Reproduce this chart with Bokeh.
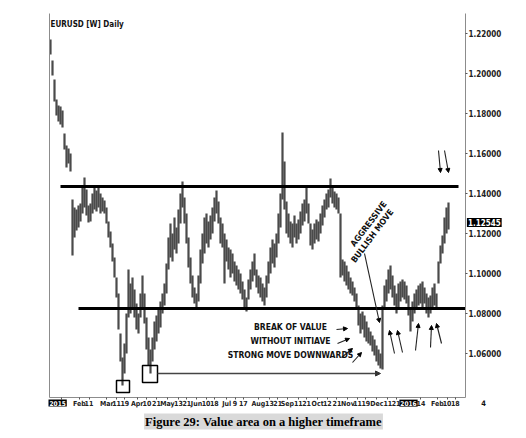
from bokeh.plotting import figure
from bokeh.models import (Range1d, LinearAxis, FixedTicker, Label, Arrow, NormalHead,
                          ColumnDataSource, NumeralTickFormatter)
from bokeh.embed import file_html
from bokeh.resources import INLINE

# ---------------- data (EURUSD daily bars) ----------------
bar_high = [
    1.2170, 1.2065, 1.1970, 1.1870, 1.1840, 1.1835, 1.1815, 1.1700, 1.1640, 1.1625,
    1.1600, 1.1370, 1.1330, 1.1320, 1.1340, 1.1350, 1.1440, 1.1480, 1.1420, 1.1340,
    1.1350, 1.1400, 1.1430, 1.1415, 1.1430, 1.1400, 1.1380, 1.1365, 1.1330, 1.1260,
    1.1210, 1.1150, 1.1080, 1.0980, 1.0900, 1.0700, 1.0580, 1.0650, 1.0800, 1.1020,
    1.0950, 1.0980, 1.0920, 1.0850, 1.0800, 1.0900, 1.0990, 1.0900, 1.0780, 1.0680,
    1.0620, 1.0680, 1.0760, 1.0790, 1.0820, 1.0860, 1.0900, 1.0950, 1.1050, 1.1180,
    1.1250, 1.1200, 1.1280, 1.1230, 1.1320, 1.1400, 1.1460, 1.1380, 1.1300, 1.1180,
    1.1080, 1.0990, 1.0930, 1.0900, 1.0990, 1.1120, 1.1200, 1.1280, 1.1300, 1.1260,
    1.1290, 1.1330, 1.1380, 1.1415, 1.1360, 1.1280, 1.1250, 1.1200, 1.1170, 1.1130,
    1.1120, 1.1100, 1.1060, 1.1040, 1.1020, 1.1000, 1.0960, 1.0920, 1.0880, 1.0970,
    1.1020, 1.1060, 1.1100, 1.1020, 1.0990, 1.0980, 1.0950, 1.0930, 1.0990, 1.1060,
    1.1130, 1.1170, 1.1150, 1.1200, 1.1300, 1.1400, 1.1705, 1.1560, 1.1360, 1.1300,
    1.1260, 1.1250, 1.1290, 1.1250, 1.1270, 1.1310, 1.1350, 1.1370, 1.1440, 1.1350,
    1.1250, 1.1220, 1.1250, 1.1270, 1.1260, 1.1300, 1.1340, 1.1370, 1.1400, 1.1420,
    1.1475, 1.1430, 1.1410, 1.1400, 1.1380, 1.1300, 1.1070, 1.1060, 1.1040, 1.1010,
    1.0980, 1.0960, 1.0930, 1.0900, 1.0840, 1.0800, 1.0810, 1.0790, 1.0760, 1.0730,
    1.0710, 1.0690, 1.0670, 1.0640, 1.0620, 1.0600, 1.0840, 1.0940, 1.0970, 1.1020,
    1.1040, 1.0990, 1.0940, 1.0900, 1.0950, 1.0960, 1.0970, 1.0960, 1.0940, 1.0890,
    1.0830, 1.0860, 1.0900, 1.0920, 1.0940, 1.0950, 1.0960, 1.0930, 1.0900, 1.0880,
    1.0890, 1.0930, 1.0950, 1.0900, 1.1060, 1.1140, 1.1190, 1.1280, 1.1330, 1.1355,
]
bar_low = [
    1.2095, 1.1990, 1.1860, 1.1790, 1.1760, 1.1745, 1.1730, 1.1620, 1.1530, 1.1550,
    1.1510, 1.1090, 1.1180, 1.1215, 1.1230, 1.1260, 1.1300, 1.1330, 1.1290, 1.1255,
    1.1260, 1.1300, 1.1320, 1.1310, 1.1330, 1.1300, 1.1310, 1.1300, 1.1250, 1.1180,
    1.1130, 1.1060, 1.0980, 1.0880, 1.0720, 1.0560, 1.0440, 1.0500, 1.0600, 1.0780,
    1.0800, 1.0820, 1.0780, 1.0720, 1.0700, 1.0780, 1.0830, 1.0750, 1.0620, 1.0540,
    1.0500, 1.0560, 1.0620, 1.0660, 1.0700, 1.0730, 1.0800, 1.0840, 1.0900, 1.1020,
    1.1080, 1.1060, 1.1120, 1.1100, 1.1150, 1.1250, 1.1330, 1.1250, 1.1150, 1.1030,
    1.0950, 1.0880, 1.0850, 1.0820, 1.0860, 1.0950, 1.1050, 1.1100, 1.1150, 1.1130,
    1.1170, 1.1200, 1.1260, 1.1300, 1.1250, 1.1150, 1.1130, 1.0950, 1.1060, 1.1020,
    1.0980, 1.1000, 1.0960, 1.0940, 1.0920, 1.0900, 1.0870, 1.0820, 1.0810, 1.0870,
    1.0920, 1.0960, 1.0990, 1.0930, 1.0900, 1.0880, 1.0860, 1.0840, 1.0880, 1.0950,
    1.1000, 1.1050, 1.1030, 1.1080, 1.1150, 1.1230, 1.1370, 1.1320, 1.1200, 1.1180,
    1.1150, 1.1130, 1.1180, 1.1150, 1.1170, 1.1200, 1.1240, 1.1260, 1.1300, 1.1250,
    1.1140, 1.1120, 1.1150, 1.1170, 1.1160, 1.1200, 1.1240, 1.1280, 1.1320, 1.1330,
    1.1380, 1.1350, 1.1330, 1.1320, 1.1300, 1.0980, 1.0990, 1.0960, 1.0940, 1.0920,
    1.0900, 1.0890, 1.0860, 1.0830, 1.0740, 1.0700, 1.0720, 1.0680, 1.0660, 1.0650,
    1.0640, 1.0610, 1.0590, 1.0560, 1.0540, 1.0525, 1.0520, 1.0820, 1.0860, 1.0900,
    1.0920, 1.0880, 1.0840, 1.0800, 1.0820, 1.0860, 1.0880, 1.0870, 1.0850, 1.0790,
    1.0710, 1.0760, 1.0800, 1.0820, 1.0840, 1.0850, 1.0830, 1.0850, 1.0800, 1.0780,
    1.0800, 1.0830, 1.0840, 1.0830, 1.0950, 1.1050, 1.1100, 1.1150, 1.1200, 1.1220,
]
last_price = 1.12545

price_ticks = [1.06, 1.08, 1.10, 1.12, 1.14, 1.16, 1.18, 1.20, 1.22]

date_tick_pos = [5.5, 14.45, 19.25, 28.2, 33.05, 37.15, 43.35, 48.2, 53.0, 58.5,
                 64.0, 68.15, 73.0, 77.8, 81.9, 88.1, 92.25, 96.4, 103.95, 109.45,
                 113.6, 118.4, 123.9, 128.05, 133.55, 138.4, 143.2, 148.7, 153.55, 157.65,
                 163.15, 168.65, 172.8, 185.2, 193.45, 198.3, 202.4]
date_tick_labels = ["14", "Feb", "11", "Mar", "11", "19", "Apr", "10", "21", "May",
                    "13", "21", "Jun", "10", "18", "Jul", "9", "17", "Aug", "13",
                    "21", "Sep", "11", "21", "Oct", "12", "21", "Nov", "11", "19",
                    "Dec", "11", "21", "14", "Feb", "10", "18"]
year_labels = ["2015", "2016"]
year_pos = [-1.0, 179.0]

# value area levels and annotations
value_high, value_high_from, value_high_to = 1.1435, 5.0, 204.0
value_low, value_low_from, value_low_to = 1.0825, 14.0, 207.5

boxes = dict(left=[33.0, 46.0], right=[39.5, 53.5], bottom=[1.0405, 1.0455], top=[1.0465, 1.0540])

arrows = dict(
    x0=[143.0, 143.5, 145.5, 151.0, 157.0, 172.0, 176.0, 182.5, 190.0, 195.5, 194.0, 197.0],
    y0=[1.0720, 1.0650, 1.0580, 1.0555, 1.1100, 1.0600, 1.0605, 1.0615, 1.0630, 1.0650, 1.1615, 1.1615],
    x1=[148.5, 149.5, 151.0, 155.5, 164.5, 169.5, 173.5, 184.0, 190.5, 193.0, 195.0, 199.0],
    y1=[1.0725, 1.0675, 1.0625, 1.0605, 1.0755, 1.0715, 1.0715, 1.0750, 1.0740, 1.0750, 1.1505, 1.1505],
)

# chart extents (bar index / price) of the drawing area
x_lo, x_hi = -0.5, 207.5
y_lo, y_hi = 1.038, 1.230

NARROW = "DejaVu Sans Condensed"

# ---------------- figure ----------------
p = figure(width=526, height=438, output_backend="svg", toolbar_location=None,
           x_range=Range1d(-25.0, 238.0), y_range=Range1d(1.0175, 1.2365),
           x_axis_location=None, y_axis_location=None,
           min_border_left=0, min_border_right=0, min_border_top=0, min_border_bottom=0)
p.title.visible = False
p.outline_line_color = None
p.background_fill_color = "white"
p.border_fill_color = "white"
p.xgrid.visible = False
p.ygrid.visible = False

# axes (fixed at the edges of the drawing area)
lax = LinearAxis(ticker=FixedTicker(ticks=[]), fixed_location=x_lo, bounds=(y_lo, y_hi),
                 major_label_text_font_size="0px", axis_line_color="#8c8c8c",
                 major_tick_line_color=None, minor_tick_line_color=None)
p.add_layout(lax, "left")

yax = LinearAxis(ticker=FixedTicker(ticks=price_ticks), formatter=NumeralTickFormatter(format="0.00000"),
                 fixed_location=x_hi, bounds=(y_lo, y_hi))
yax.axis_line_color = "#8c8c8c"
yax.major_tick_line_color = "#555555"
yax.major_tick_in = 0
yax.major_tick_out = 2
yax.minor_tick_line_color = None
yax.major_label_standoff = 1
yax.major_label_text_font = NARROW
yax.major_label_text_font_style = "bold"
yax.major_label_text_font_size = "8px"
yax.major_label_text_color = "#222222"
p.add_layout(yax, "right")

xax = LinearAxis(ticker=FixedTicker(ticks=date_tick_pos),
                 major_label_overrides=dict(zip(date_tick_pos, date_tick_labels)),
                 fixed_location=y_lo, bounds=(x_lo, x_hi))
xax.axis_line_color = "#8c8c8c"
xax.major_tick_line_color = "#555555"
xax.major_tick_in = 0
xax.major_tick_out = 2
xax.minor_tick_line_color = None
xax.major_label_standoff = 0
xax.major_label_text_font = NARROW
xax.major_label_text_font_style = "bold"
xax.major_label_text_font_size = "7px"
xax.major_label_text_color = "#222222"
p.add_layout(xax, "below")

# price bars
src = ColumnDataSource(dict(x=list(range(len(bar_high))), hi=bar_high, lo=bar_low))
p.segment(x0="x", y0="lo", x1="x", y1="hi", source=src, line_color="#4a4a4a", line_width=2.2)

# value area lines
p.segment(x0=[value_high_from, value_low_from], y0=[value_high, value_low],
          x1=[value_high_to, value_low_to], y1=[value_high, value_low],
          line_color="black", line_width=3)

# boxes around the lows
p.quad(source=ColumnDataSource(boxes), left="left", right="right", bottom="bottom", top="top",
       fill_color=None, line_color="black", line_width=1.5)

# long arrow from second low to the december low
p.add_layout(Arrow(end=NormalHead(size=5, fill_color="#333333", line_color="#333333"),
                   x_start=boxes["right"][1], y_start=1.0500, x_end=165.0, y_end=1.0500,
                   line_color="#444444", line_width=1.6))

# small arrows
p.add_layout(Arrow(end=NormalHead(size=4, fill_color="black", line_color="black"),
                   source=ColumnDataSource(arrows), x_start="x0", y_start="y0", x_end="x1", y_end="y1",
                   line_color="#222222", line_width=1.1))

# texts
def add_text(x, y, text, size="8.5px", angle=0.0, align="center", font=NARROW, color="#111111", **kw):
    lab = Label(x=x, y=y, text=text, angle=angle, text_align=align, text_baseline="middle",
                text_font=font, text_font_style="bold", text_font_size=size,
                text_color=color, **kw)
    p.add_layout(lab)
    return lab

add_text(0.0, 1.2245, "EURUSD [W] Daily", size="8px", align="left")
add_text(120.0, 1.0735, "BREAK OF VALUE")
add_text(120.0, 1.0665, "WITHOUT INITIAVE")
add_text(120.0, 1.0595, "STRONG MOVE DOWNWARDS")
add_text(159.0, 1.1248, "AGGRESSIVE", angle=0.925)
add_text(160.8, 1.1188, "BULLISH MOVE", angle=0.925)

# last price marker on the right scale
add_text(208.2, last_price, "1.12545", size="8px", align="left", color="white",
         background_fill_color="black", padding=1)
# year markers on the time scale
for xp, yl in zip(year_pos, year_labels):
    add_text(xp, 1.0352, yl, size="6.5px", align="left" if yl == "2015" else "center",
             color="white", background_fill_color="black", padding=1)
add_text(216.5, 1.0352, "4", size="7.5px")

# caption
add_text(106.5, 1.0260, "Figure 29: Value area on a higher timeframe", size="12.5px",
         font="Liberation Serif", color="black", background_fill_color="#d9d9d9", padding=1)

open("out.html", "w").write(file_html(p, INLINE))
